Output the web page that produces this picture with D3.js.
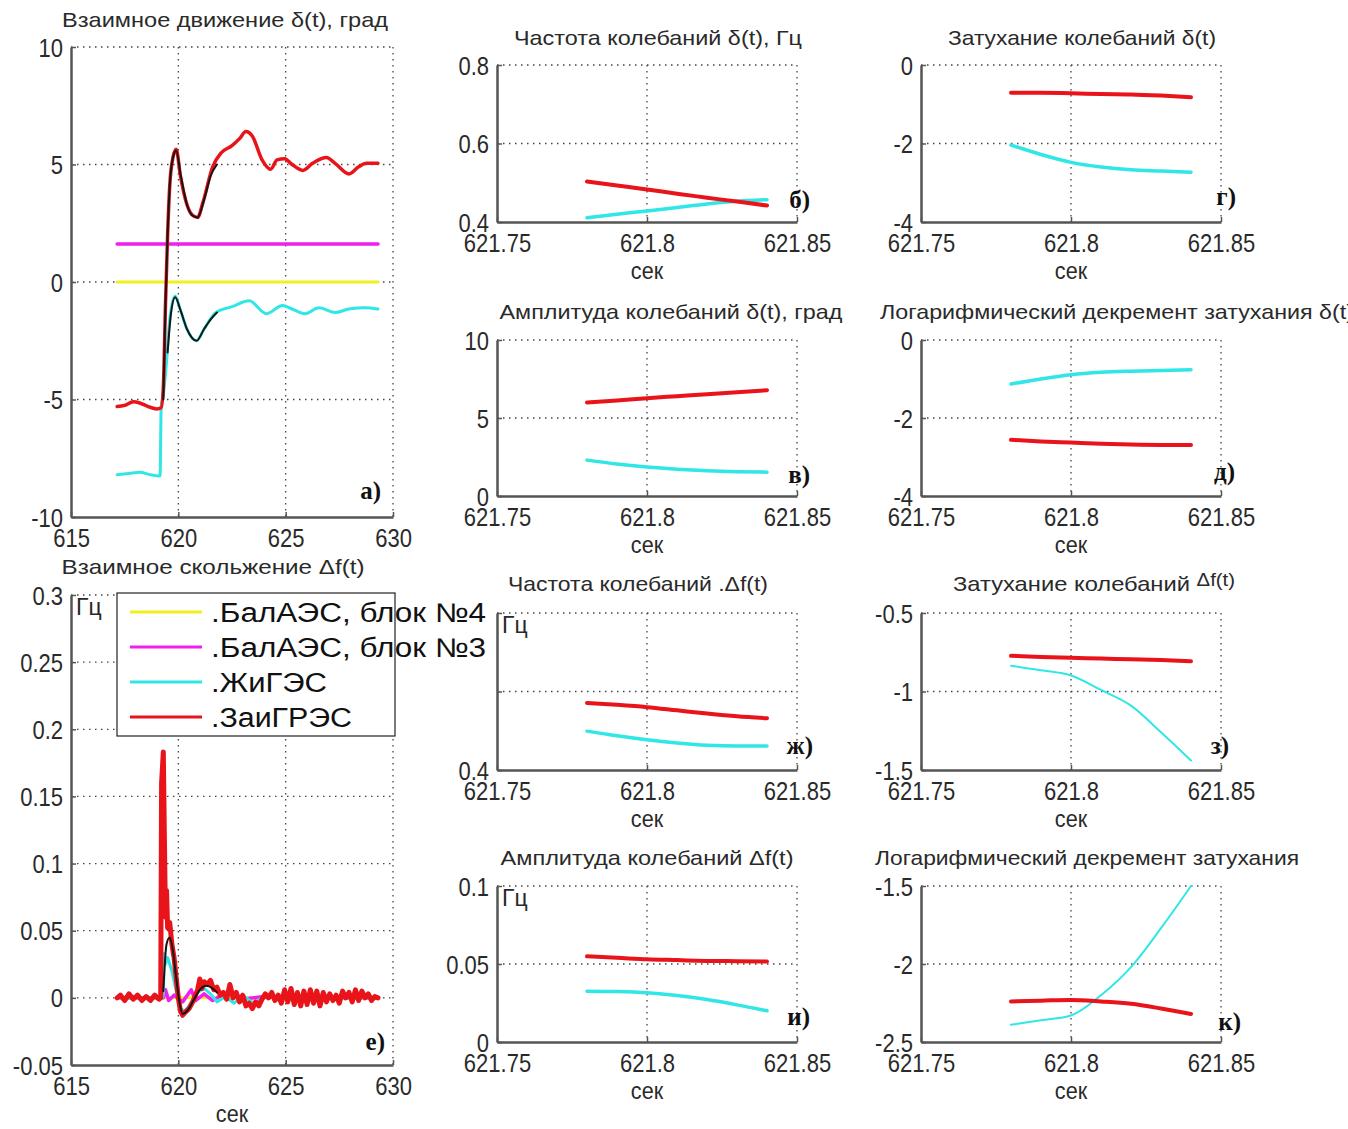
<!DOCTYPE html>
<html>
<head>
<meta charset="utf-8">
<script src="https://cdn.jsdelivr.net/npm/d3@7"></script>
<style>
  body { margin: 0; background: #fff; }
  text { font-family: "Liberation Sans", Arial, sans-serif; fill: #2a2a2a; }
  .grid line { stroke: #444; stroke-width: 1.3; stroke-dasharray: 1.5,4.5; }
  .axis path, .axis line { stroke: #555; }
  .axis path { stroke-width: 2.5; }
  .axis line { stroke-width: 1.5; }
  .axis text { font-size: 25px; }
  .title { font-size: 21px; }
  .letter { font-family: "Liberation Serif", "Times New Roman", serif; font-weight: bold; font-size: 25px; fill: #111; }
  .legend text { font-size: 27px; fill: #111; }
</style>
</head>
<body>
<div id="chart"></div>
<script>
// ---- ticks ----
const ticksT = [615, 620, 625, 630];
const ticksDelta = [-10, -5, 0, 5, 10];
const ticksSlip = [-0.05, 0, 0.05, 0.1, 0.15, 0.2, 0.25, 0.3];
const ticksFit = [621.75, 621.8, 621.85];
const ticksFreq = [0.4, 0.6, 0.8];
const ticksAmpDelta = [0, 5, 10];
const ticksDamp = [-4, -2, 0];
const ticksDampSlip = [-1.5, -1, -0.5];
const ticksAmpSlip = [0, 0.05, 0.1];
const ticksDecSlip = [-2.5, -2, -1.5];

// ---- legend ----
const names = [".БалАЭС, блок №4", ".БалАЭС, блок №3", ".ЖиГЭС", ".ЗаиГРЭС"];
const colors = ["#f0f01e", "#f01ef0", "#30e6e6", "#e8141a"];
const fitColor = "#151515";

// ---- а) mutual motion delta(t), deg ----
const tLevel = [617.15, 629.3];
const yellowDelta = [0, 0];
const magentaDelta = [1.62, 1.62];
const tRedDelta = [617.15, 617.5, 617.9, 618.2, 618.6, 619.0, 619.2, 619.3, 619.4, 619.5, 619.6, 619.75, 619.9, 620.1, 620.4, 620.65, 620.9, 621.15, 621.6, 622.0, 622.5, 622.85, 623.15, 623.45, 623.9, 624.3, 624.6, 624.95, 625.3, 625.8, 626.25, 626.9, 627.3, 627.95, 628.4, 628.75, 629.3];
const redDelta = [-5.3, -5.25, -5.1, -5.15, -5.3, -5.4, -5.35, -4.5, -1.0, 2.0, 4.1, 5.3, 5.65, 4.5, 3.3, 2.85, 2.75, 3.4, 4.9, 5.5, 5.8, 6.1, 6.4, 6.2, 5.2, 4.8, 5.2, 5.25, 5.0, 4.75, 5.05, 5.3, 5.05, 4.6, 4.9, 5.05, 5.05];
const tCyanDelta = [617.15, 617.7, 618.2, 618.7, 619.15, 619.2, 619.3, 619.45, 619.6, 619.85, 620.1, 620.4, 620.85, 621.2, 621.75, 622.5, 623.3, 624.1, 624.85, 625.3, 625.9, 626.55, 627.3, 627.95, 628.7, 629.3];
const cyanDelta = [-8.2, -8.15, -8.1, -8.2, -8.25, -5.3, -4.8, -3.4, -1.6, -0.6, -1.2, -2.0, -2.5, -2.0, -1.3, -1.05, -0.8, -1.35, -1.0, -1.15, -1.35, -1.1, -1.3, -1.15, -1.1, -1.15];
const tFitRedDelta = [619.3, 619.4, 619.5, 619.6, 619.75, 619.9, 620.1, 620.4, 620.7, 620.9, 621.2, 621.5, 621.8];
const fitRedDelta = [-5.0, -1.0, 2.0, 4.1, 5.3, 5.6, 4.6, 3.3, 2.8, 2.75, 3.5, 4.5, 5.0];
const tFitCyanDelta = [619.5, 619.65, 619.85, 620.1, 620.4, 620.85, 621.2, 621.5, 621.8];
const fitCyanDelta = [-3.0, -1.4, -0.65, -1.2, -2.0, -2.5, -2.0, -1.6, -1.3];

// ---- е) mutual slip df(t), Hz ----
const tRedSlip = [617.15, 617.3, 617.5, 617.7, 617.9, 618.1, 618.3, 618.5, 618.7, 618.9, 619.1, 619.18, 619.22, 619.3, 619.35, 619.4, 619.45, 619.5, 619.6, 619.7, 619.8, 619.9, 620.0, 620.1, 620.2, 620.3, 620.5, 620.7, 620.9, 621.0, 621.1, 621.2, 621.35, 621.5, 621.65, 621.8, 621.95, 622.1, 622.25, 622.4, 622.55, 622.7, 622.85, 623.0, 623.15, 623.3, 623.45, 623.6, 623.75, 623.9, 624.05, 624.2, 624.35, 624.5, 624.65, 624.8, 624.95, 625.1, 625.25, 625.4, 625.55, 625.7, 625.85, 626.0, 626.15, 626.3, 626.45, 626.6, 626.75, 626.9, 627.05, 627.2, 627.35, 627.5, 627.65, 627.8, 627.95, 628.1, 628.25, 628.4, 628.55, 628.7, 628.85, 629.0, 629.15, 629.3];
const redSlip = [0.000, 0.002, -0.002, 0.003, -0.001, 0.002, -0.002, 0.001, -0.002, 0.002, -0.001, 0.000, 0.160, 0.183, 0.120, 0.060, 0.080, 0.052, 0.056, 0.040, 0.030, 0.015, 0.000, -0.010, -0.013, -0.011, -0.008, -0.002, 0.006, 0.014, 0.007, 0.012, 0.010, 0.013, 0.006, 0.008, 0.002, 0.004, -0.001, 0.010, 0.000, 0.004, -0.003, 0.002, -0.006, -0.004, -0.008, -0.003, -0.006, -0.001, 0.003, 0.000, 0.004, -0.002, 0.002, -0.004, 0.006, -0.003, 0.007, -0.005, 0.004, -0.006, 0.005, -0.005, 0.006, -0.004, 0.005, -0.006, 0.004, -0.003, 0.003, -0.002, 0.002, -0.004, 0.005, 0.000, 0.004, -0.003, 0.006, -0.002, 0.005, 0.000, 0.003, -0.002, 0.001, 0.000];
const tCyanSlip = [617.15, 619.25, 619.3, 619.35, 619.4, 619.5, 619.7, 619.9, 620.1, 620.3, 620.6, 620.9, 621.2, 621.5, 621.8, 622.2, 622.6, 623.0, 623.5, 624.0, 625.0, 626.0, 627.0, 628.0, 629.3];
const cyanSlip = [0.000, 0.000, 0.002, 0.033, 0.025, 0.030, 0.020, 0.005, -0.008, -0.010, -0.004, 0.004, 0.007, 0.003, -0.003, 0.001, -0.004, 0.002, -0.004, 0.001, 0.000, 0.001, 0.000, 0.001, 0.000];
const tMagentaSlip = [617.15, 619.3, 619.4, 619.55, 619.8, 620.2, 620.6, 620.8, 621.2, 621.6, 622.0, 622.6, 623.0, 624.0, 625.0, 629.3];
const magentaSlip = [0.000, 0.000, 0.006, -0.002, 0.002, -0.003, 0.006, -0.002, 0.003, -0.002, 0.002, 0.003, -0.001, 0.001, 0.000, 0.000];
const yellowSlip = [0, 0];
const tFitSlip = [619.3, 619.45, 619.6, 619.75, 619.9, 620.05, 620.2, 620.4, 620.7, 621.0, 621.3, 621.6, 621.8];
const fitSlip = [0.005, 0.040, 0.045, 0.035, 0.015, -0.003, -0.012, -0.010, -0.002, 0.006, 0.009, 0.007, 0.004];

// ---- small panels: estimation window ----
const tWin = [621.78, 621.79, 621.80, 621.81, 621.82, 621.83, 621.84];
const freqDeltaRed = [0.503, 0.493, 0.483, 0.472, 0.462, 0.452, 0.442];
const freqDeltaCyan = [0.411, 0.420, 0.428, 0.437, 0.446, 0.453, 0.457];
const ampDeltaRed = [6.0, 6.12, 6.27, 6.4, 6.53, 6.65, 6.78];
const ampDeltaCyan = [2.3, 2.05, 1.86, 1.72, 1.62, 1.56, 1.53];
const dampDeltaRed = [-0.71, -0.71, -0.72, -0.74, -0.75, -0.78, -0.82];
const dampDeltaCyan = [-2.04, -2.28, -2.48, -2.60, -2.67, -2.70, -2.73];
const decDeltaRed = [-2.56, -2.60, -2.63, -2.66, -2.68, -2.69, -2.69];
const decDeltaCyan = [-1.13, -1.0, -0.89, -0.83, -0.80, -0.78, -0.76];
const freqSlipRed = [0.571, 0.566, 0.560, 0.552, 0.544, 0.537, 0.532];
const freqSlipCyan = [0.499, 0.487, 0.477, 0.469, 0.463, 0.461, 0.461];
const dampSlipRed = [-0.773, -0.78, -0.785, -0.79, -0.795, -0.80, -0.807];
const dampSlipCyan = [-0.836, -0.865, -0.898, -0.99, -1.09, -1.26, -1.44];
const ampSlipRed = [0.0549, 0.054, 0.053, 0.0525, 0.052, 0.0518, 0.0516];
const ampSlipCyan = [0.0326, 0.0323, 0.0315, 0.0298, 0.0272, 0.0238, 0.0200];
const decSlipRed = [-2.24, -2.235, -2.23, -2.24, -2.255, -2.285, -2.32];
const decSlipCyan = [-2.39, -2.36, -2.33, -2.20, -2.02, -1.77, -1.50];

const width = 1348, height = 1129;

const svg = d3.select("#chart").append("svg")
  .attr("width", width)
  .attr("height", height);
svg.append("rect").attr("width", width).attr("height", height).attr("fill", "#fff");

function squeeze(sel, k) {
  sel.each(function () {
    const w = this.getComputedTextLength();
    if (w > 0) d3.select(this).attr("textLength", w * k).attr("lengthAdjust", "spacingAndGlyphs");
  });
}

function panel(p) {
  const x = d3.scaleLinear().domain(p.xd).range([p.left, p.right]);
  const y = d3.scaleLinear().domain(p.yd).range([p.bottom, p.top]);
  const g = svg.append("g");

  // dotted grid
  g.append("g").attr("class", "grid").selectAll("line")
    .data(p.xt.slice(1)).enter().append("line")
    .attr("x1", d => x(d)).attr("x2", d => x(d))
    .attr("y1", p.top).attr("y2", p.bottom);
  g.append("g").attr("class", "grid").selectAll("line")
    .data(p.yt.slice(1)).enter().append("line")
    .attr("y1", d => y(d)).attr("y2", d => y(d))
    .attr("x1", p.left).attr("x2", p.right);

  // series
  p.series.forEach(s => {
    const line = d3.line()
      .x((d, i) => x(s.t[i]))
      .y(d => y(d))
      .curve(s.curve || d3.curveMonotoneX);
    g.append("path")
      .datum(s.v)
      .attr("fill", "none")
      .attr("stroke", s.color)
      .attr("stroke-width", s.w)
      .attr("stroke-linejoin", "round")
      .attr("stroke-linecap", "round")
      .attr("d", line);
  });

  // axes
  const ax = g.append("g").attr("class", "axis")
    .attr("transform", "translate(0," + p.bottom + ")")
    .call(d3.axisBottom(x).tickValues(p.xt).tickSize(-5).tickSizeOuter(0).tickPadding(10)
      .tickFormat(d => String(d)));
  ax.selectAll("text").attr("dy", null).attr("y", 30);
  squeeze(ax.selectAll("text"), 0.88);

  const ay = g.append("g").attr("class", "axis")
    .attr("transform", "translate(" + p.left + ",0)")
    .call(d3.axisLeft(y).tickValues(p.yt).tickSize(-5).tickSizeOuter(0).tickPadding(8)
      .tickFormat(d => (p.yShow && p.yShow.indexOf(d) < 0) ? "" : String(d)));
  ay.selectAll("text").attr("dy", "0.36em");
  squeeze(ay.selectAll("text"), 0.88);

  // titles and labels
  const tt = g.append("text").attr("class", "title")
    .attr("x", p.titleX).attr("y", p.titleY)
    .attr("text-anchor", p.titleAnchor || "middle")
    .attr("textLength", p.titleW).attr("lengthAdjust", "spacingAndGlyphs");
  tt.append("tspan").text(p.title);
  if (p.titleSup) tt.append("tspan").attr("dy", -5).style("font-size", "18px").text(p.titleSup);

  if (p.xlabel) {
    const xl = g.append("text").attr("x", (p.left + p.right) / 2).attr("y", p.bottom + 57)
      .attr("text-anchor", "middle").style("font-size", "24px").text("сек");
    squeeze(xl, 0.9);
  }
  if (p.unit) {
    g.append("text").attr("x", p.left + 5).attr("y", p.top + 20)
      .style("font-size", "23px").text(p.unit);
  }
  g.append("text").attr("class", "letter")
    .attr("x", p.letterX).attr("y", p.letterY)
    .attr("text-anchor", "end").text(p.letter);
  return { x, y, g };
}

const C = { yellow: colors[0], magenta: colors[1], cyan: colors[2], red: colors[3] };

// а)
panel({
  left: 71, right: 393, top: 47, bottom: 517,
  xd: [615, 630], yd: [-10, 10], xt: ticksT, yt: ticksDelta,
  title: "Взаимное движение  δ(t), град", titleX: 225, titleY: 27, titleW: 326,
  letter: "а)", letterX: 381, letterY: 499, xlabel: false,
  series: [
    { t: tLevel, v: yellowDelta, color: C.yellow, w: 3 },
    { t: tLevel, v: magentaDelta, color: C.magenta, w: 3.5 },
    { t: tCyanDelta, v: cyanDelta, color: C.cyan, w: 3 },
    { t: tRedDelta, v: redDelta, color: C.red, w: 3.5 },
    { t: tFitRedDelta, v: fitRedDelta, color: fitColor, w: 2 },
    { t: tFitCyanDelta, v: fitCyanDelta, color: fitColor, w: 2 }
  ]
});

// е)
panel({
  left: 71, right: 393, top: 595, bottom: 1065,
  xd: [615, 630], yd: [-0.05, 0.3], xt: ticksT, yt: ticksSlip,
  title: "Взаимное  скольжение  Δf(t)", titleX: 213, titleY: 574, titleW: 303,
  letter: "е)", letterX: 385, letterY: 1050, xlabel: true, unit: "Гц",
  series: [
    { t: tLevel, v: yellowSlip, color: C.yellow, w: 3 },
    { t: tMagentaSlip, v: magentaSlip, color: C.magenta, w: 3.5, curve: d3.curveLinear },
    { t: tCyanSlip, v: cyanSlip, color: C.cyan, w: 3, curve: d3.curveLinear },
    { t: tRedSlip, v: redSlip, color: C.red, w: 5, curve: d3.curveLinear },
    { t: tFitSlip, v: fitSlip, color: fitColor, w: 2 }
  ]
});

const small = [
  { left: 497, right: 797, top: 65, bottom: 222, yd: [0.4, 0.8], yt: ticksFreq,
    title: "Частота  колебаний δ(t), Гц", titleX: 658, titleY: 45, titleW: 288,
    letter: "б)", letterX: 810, letterY: 208, red: freqDeltaRed, cyan: freqDeltaCyan, cw: 3.5 },
  { left: 497, right: 797, top: 340, bottom: 496, yd: [0, 10], yt: ticksAmpDelta,
    title: "Амплитуда колебаний δ(t),  град", titleX: 671, titleY: 319, titleW: 343,
    letter: "в)", letterX: 810, letterY: 483, red: ampDeltaRed, cyan: ampDeltaCyan, cw: 3.5 },
  { left: 921, right: 1221, top: 65, bottom: 222, yd: [-4, 0], yt: ticksDamp,
    title: "Затухание колебаний δ(t)", titleX: 1082, titleY: 45, titleW: 268,
    letter: "г)", letterX: 1236, letterY: 205, red: dampDeltaRed, cyan: dampDeltaCyan, cw: 3.5 },
  { left: 921, right: 1221, top: 340, bottom: 496, yd: [-4, 0], yt: ticksDamp,
    title: "Логарифмический декремент затухания δ(t)", titleX: 880, titleY: 319, titleW: 474, titleAnchor: "start",
    letter: "д)", letterX: 1235, letterY: 480, red: decDeltaRed, cyan: decDeltaCyan, cw: 3.5 },
  { left: 497, right: 797, top: 613, bottom: 770, yd: [0.4, 0.8], yt: ticksFreq, yShow: [0.4], unit: "Гц",
    title: "Частота колебаний .Δf(t)", titleX: 638, titleY: 591, titleW: 260,
    letter: "ж)", letterX: 813, letterY: 754, red: freqSlipRed, cyan: freqSlipCyan, cw: 3.5 },
  { left: 921, right: 1221, top: 613, bottom: 770, yd: [-1.5, -0.5], yt: ticksDampSlip,
    title: "Затухание колебаний ", titleSup: "Δf(t)", titleX: 1094, titleY: 591, titleW: 282,
    letter: "з)", letterX: 1229, letterY: 754, red: dampSlipRed, cyan: dampSlipCyan, cw: 2 },
  { left: 497, right: 797, top: 886, bottom: 1042, yd: [0, 0.1], yt: ticksAmpSlip, unit: "Гц",
    title: "Амплитуда колебаний  Δf(t)", titleX: 647, titleY: 865, titleW: 293,
    letter: "и)", letterX: 810, letterY: 1025, red: ampSlipRed, cyan: ampSlipCyan, cw: 3.5 },
  { left: 921, right: 1221, top: 886, bottom: 1042, yd: [-2.5, -1.5], yt: ticksDecSlip,
    title: "Логарифмический декремент затухания", titleX: 1087, titleY: 865, titleW: 424,
    letter: "к)", letterX: 1241, letterY: 1030, red: decSlipRed, cyan: decSlipCyan, cw: 2 }
];

small.forEach(p => {
  p.xd = [621.75, 621.85];
  p.xt = ticksFit;
  p.xlabel = true;
  p.series = [
    { t: tWin, v: p.cyan, color: C.cyan, w: p.cw },
    { t: tWin, v: p.red, color: C.red, w: 4 }
  ];
  panel(p);
});

// legend (drawn over panel е)
const lg = svg.append("g").attr("class", "legend");
lg.append("rect")
  .attr("x", 117).attr("y", 593).attr("width", 278).attr("height", 143)
  .attr("fill", "#fff").attr("stroke", "#222").attr("stroke-width", 1.2);
const legendW = [275, 275, 116, 141];
names.forEach((n, i) => {
  const ly = 612 + i * 35;
  lg.append("line").attr("x1", 130).attr("x2", 202).attr("y1", ly).attr("y2", ly)
    .attr("stroke", colors[i]).attr("stroke-width", 3);
  lg.append("text").attr("x", 211).attr("y", ly + 10)
    .attr("textLength", legendW[i]).attr("lengthAdjust", "spacingAndGlyphs")
    .text(n);
});
</script>
</body>
</html>
